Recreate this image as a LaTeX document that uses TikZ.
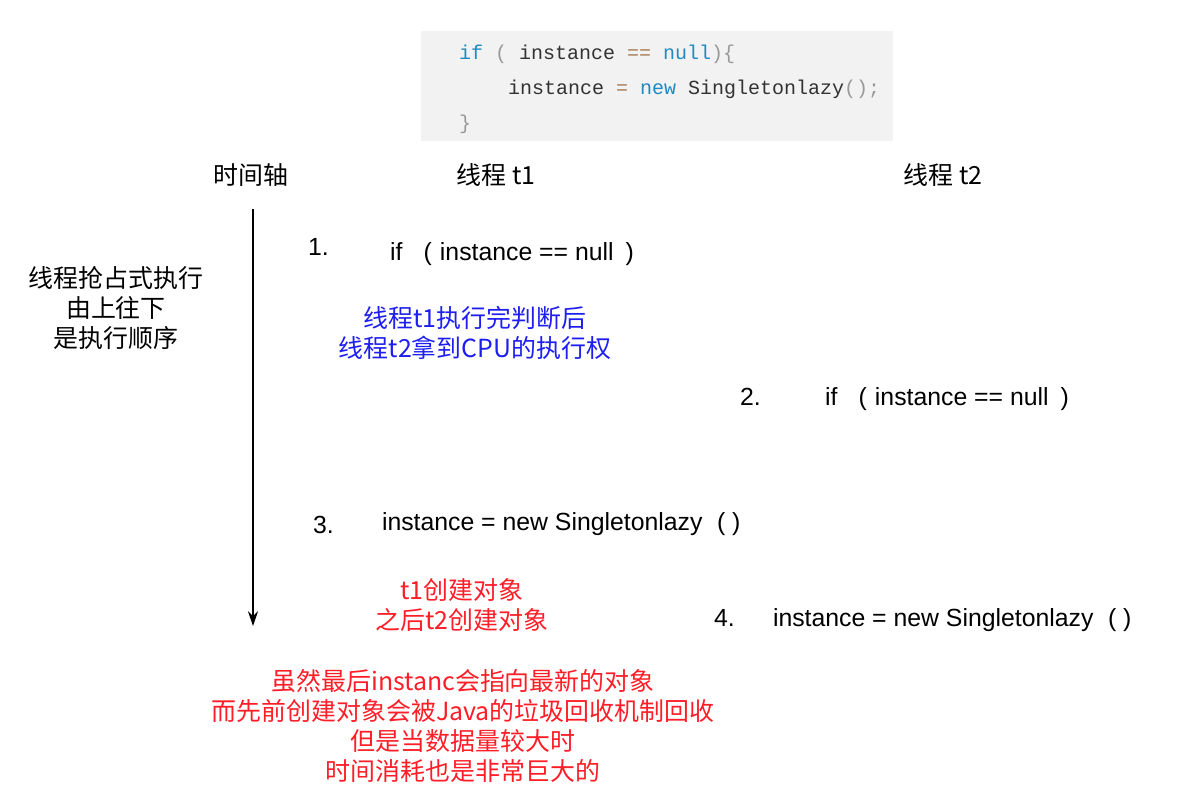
\documentclass[tikz,border=0pt]{standalone}
\usepackage{fontspec}
\setmainfont{Liberation Sans}
\setmonofont{Liberation Mono}
\newfontfamily\cjk{Noto Sans CJK SC}
\usetikzlibrary{arrows.meta, positioning}
\definecolor{codebg}{RGB}{242,242,242}
\definecolor{codetext}{RGB}{51,51,51}
\definecolor{codekw}{RGB}{33,138,191}
\definecolor{codeop}{RGB}{166,127,89}
\definecolor{codepunct}{RGB}{153,153,153}
\definecolor{noteblue}{RGB}{30,30,240}
\definecolor{notered}{RGB}{255,30,40}

\begin{document}
\begin{tikzpicture}[x=0.75pt, y=-0.75pt,
    every node/.style={inner sep=0pt, outer sep=0pt},
    txt/.style={font=\fontsize{18.6}{22.5}\selectfont, anchor=base west},
    cn/.style={font=\cjk\fontsize{18.7}{22.5}\selectfont, align=center},
    code/.style={font=\ttfamily\fontsize{15}{18}\selectfont, anchor=base west, text=codetext},
    timearrow/.style={line width=1.6pt, -{Stealth[length=11pt, width=7.5pt]}}]
  \fill[white, use as bounding box] (0,0) rectangle (1183,794);

  % code snippet
  \fill[codebg] (421,31) rectangle (893,141);
  \node[code] (codeif) at (459,59) {\textcolor{codekw}{if} \textcolor{codepunct}{(} instance \textcolor{codeop}{==} \textcolor{codekw}{null}\textcolor{codepunct}{)\{}};
  \node[code] (codenew) at (508,94) {instance \textcolor{codeop}{=} \textcolor{codekw}{new} Singletonlazy\textcolor{codepunct}{();}};
  \node[code] (codeend) at (459,129) {\textcolor{codepunct}{\}}};

  % headers
  \node[cn] (timeaxis) at (251,175) {时间轴};
  \node[cn] (thread1) at (496,175) {线程 t1};
  \node[cn] (thread2) at (943,175) {线程 t2};

  % time axis
  \coordinate (axistop) at (253,209);
  \coordinate (axisend) at (253,626);
  \draw[timearrow] (axistop) -- (axisend);
  \node[cn] (order) at (116,308) {线程抢占式执行\\由上往下\\是执行顺序};

  % steps
  \foreach \n/\x/\y in {1/308/255, 2/740/405, 3/313/533, 4/714/626}
    \node[txt] (num\n) at (\x,\y) {\n.};
  \node[txt] (t1check) at (390,260) {if\hspace{16pt}(\hspace{6pt}instance == null\hspace{9pt})};
  \node[txt] (t2check) at (825,405) {if\hspace{16pt}(\hspace{6pt}instance == null\hspace{9pt})};
  \node[txt] (t1new) at (382,530) {instance = new Singletonlazy\hspace{11pt}(\hspace{5pt})};
  \node[txt] (t2new) at (773,626) {instance = new Singletonlazy\hspace{11pt}(\hspace{5pt})};

  % notes
  \node[cn, text=noteblue] (switch) at (475,333) {线程t1执行完判断后\\线程t2拿到CPU的执行权};
  \node[cn, text=notered] (twice) at (462,605) {t1创建对象\\之后t2创建对象};
  \node[cn, text=notered] (cost) at (463,726) {虽然最后instanc会指向最新的对象\\而先前创建对象会被Java的垃圾回收机制回收\\但是当数据量较大时\\时间消耗也是非常巨大的};
\end{tikzpicture}
\end{document}
